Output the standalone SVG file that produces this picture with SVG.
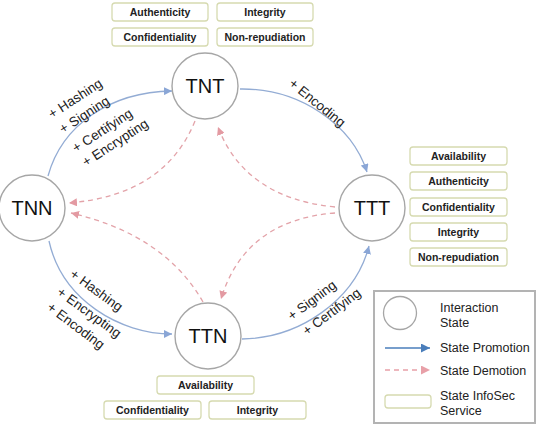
<svg xmlns="http://www.w3.org/2000/svg" width="539" height="426" viewBox="0 0 539 426">
<style>
.node{fill:#fff;stroke:#a6a6a6;stroke-width:1.4}
.nt{font-family:"Liberation Sans",Arial,sans-serif;font-size:20px;fill:#111;text-anchor:middle}
.box{fill:#fff;stroke:#d6dab0;stroke-width:1.3}
.bt{font-family:"Liberation Sans",Arial,sans-serif;font-size:10.5px;font-weight:bold;fill:#222;text-anchor:middle}
.lab{font-family:"Liberation Sans",Arial,sans-serif;font-size:13.5px;fill:#222}
.pro{fill:none;stroke:#93acd4;stroke-width:1.3}
.dem{fill:none;stroke:#e3a3a9;stroke-width:1.3;stroke-dasharray:5 4}
.leg{font-family:"Liberation Sans",Arial,sans-serif;font-size:12.5px;fill:#222}
</style>
<defs>
<marker id="ab" viewBox="0 0 10 10" refX="10" refY="5" markerWidth="8" markerHeight="8" markerUnits="userSpaceOnUse" orient="auto"><path d="M0,0 L10,5 L0,10 z" fill="#8aa6d6"/></marker>
<marker id="ap" viewBox="0 0 10 10" refX="10" refY="5" markerWidth="8" markerHeight="8" markerUnits="userSpaceOnUse" orient="auto"><path d="M0,0 L10,5 L0,10 z" fill="#e39aa2"/></marker>
<marker id="abl" viewBox="0 0 10 10" refX="10" refY="5" markerWidth="9" markerHeight="9" markerUnits="userSpaceOnUse" orient="auto"><path d="M0,0 L10,5 L0,10 z" fill="#4a7ebb"/></marker>
<marker id="apl" viewBox="0 0 10 10" refX="10" refY="5" markerWidth="9" markerHeight="9" markerUnits="userSpaceOnUse" orient="auto"><path d="M0,0 L10,5 L0,10 z" fill="#e8a0a8"/></marker>
</defs>

<g id="connectors">
<path class="pro" d="M48,176 C62,125 110,92 172,91" marker-end="url(#ab)"/>
<path class="pro" d="M240,89 C300,88 352,125 367,172" marker-end="url(#ab)"/>
<path class="pro" d="M49,241 C62,300 120,334 172,334" marker-end="url(#ab)"/>
<path class="pro" d="M242,339 C300,338 355,300 369,246" marker-end="url(#ab)"/>
<path class="dem" d="M335,207 Q245,198 218,127" marker-end="url(#ap)"/>
<path class="dem" d="M335,213 Q245,220 221,299" marker-end="url(#ap)"/>
<path class="dem" d="M195,121 Q165,195 69,203" marker-end="url(#ap)"/>
<path class="dem" d="M203,302 Q165,235 71,213" marker-end="url(#ap)"/>
</g>

<g id="labels">
<text class="lab" transform="translate(52,119) rotate(-33)">+ Hashing</text>
<text class="lab" transform="translate(63,134) rotate(-33)">+ Signing</text>
<text class="lab" transform="translate(76,153) rotate(-33)">+ Certifying</text>
<text class="lab" transform="translate(86,167) rotate(-33)">+ Encrypting</text>
<text class="lab" transform="translate(288,85) rotate(39)">+ Encoding</text>
<text class="lab" transform="translate(69,276) rotate(36)">+ Hashing</text>
<text class="lab" transform="translate(56,294) rotate(36)">+ Encrypting</text>
<text class="lab" transform="translate(46,309) rotate(37)">+ Encoding</text>
<text class="lab" transform="translate(292,321) rotate(-37)">+ Signing</text>
<text class="lab" transform="translate(307,336) rotate(-37)">+ Certifying</text>
</g>

<g id="TNT"><circle class="node" cx="205" cy="86" r="33"/><text class="nt" x="205" y="93">TNT</text></g>
<g id="TNN"><circle class="node" cx="32" cy="208" r="33"/><text class="nt" x="32" y="215">TNN</text></g>
<g id="TTT"><circle class="node" cx="372" cy="208" r="33"/><text class="nt" x="372" y="215">TTT</text></g>
<g id="TTN"><circle class="node" cx="208" cy="336" r="33"/><text class="nt" x="208" y="343">TTN</text></g>

<g id="TNT-services">
<rect class="box" x="112" y="3" width="96" height="18" rx="3"/><text class="bt" x="160" y="16">Authenticity</text>
<rect class="box" x="217" y="3" width="96" height="18" rx="3"/><text class="bt" x="265" y="16">Integrity</text>
<rect class="box" x="112" y="28" width="96" height="18" rx="3"/><text class="bt" x="160" y="41">Confidentiality</text>
<rect class="box" x="217" y="28" width="96" height="18" rx="3"/><text class="bt" x="265" y="41">Non-repudiation</text>
</g>

<g id="TTT-services">
<rect class="box" x="410" y="147" width="97" height="18" rx="3"/><text class="bt" x="458.5" y="160">Availability</text>
<rect class="box" x="410" y="172" width="97" height="18" rx="3"/><text class="bt" x="458.5" y="185">Authenticity</text>
<rect class="box" x="410" y="198" width="97" height="18" rx="3"/><text class="bt" x="458.5" y="211">Confidentiality</text>
<rect class="box" x="410" y="223" width="97" height="18" rx="3"/><text class="bt" x="458.5" y="236">Integrity</text>
<rect class="box" x="410" y="248" width="97" height="18" rx="3"/><text class="bt" x="458.5" y="261">Non-repudiation</text>
</g>

<g id="TTN-services">
<rect class="box" x="157" y="376" width="97" height="18" rx="3"/><text class="bt" x="205.5" y="389">Availability</text>
<rect class="box" x="104" y="401" width="97" height="18" rx="3"/><text class="bt" x="152.5" y="414">Confidentiality</text>
<rect class="box" x="209" y="401" width="97" height="18" rx="3"/><text class="bt" x="257.5" y="414">Integrity</text>
</g>

<g id="legend">
<rect x="374" y="291" width="161" height="132" fill="#fff" stroke="#b3b3b3" stroke-width="2"/>
<circle cx="400" cy="313" r="16.5" fill="#fff" stroke="#a6a6a6" stroke-width="1.3"/>
<text class="leg" x="440" y="312">Interaction</text>
<text class="leg" x="440" y="327">State</text>
<line x1="385" y1="348" x2="430" y2="348" stroke="#4a7ebb" stroke-width="1.6" marker-end="url(#abl)"/>
<text class="leg" x="440" y="352">State Promotion</text>
<line x1="385" y1="370" x2="430" y2="370" stroke="#e8a0a8" stroke-width="1.5" stroke-dasharray="5 4" marker-end="url(#apl)"/>
<text class="leg" x="440" y="375">State Demotion</text>
<rect x="385" y="395" width="46" height="13" rx="3" fill="#fff" stroke="#d6dab0" stroke-width="1.3"/>
<text class="leg" x="440" y="400">State InfoSec</text>
<text class="leg" x="440" y="415">Service</text>
</g>
</svg>
